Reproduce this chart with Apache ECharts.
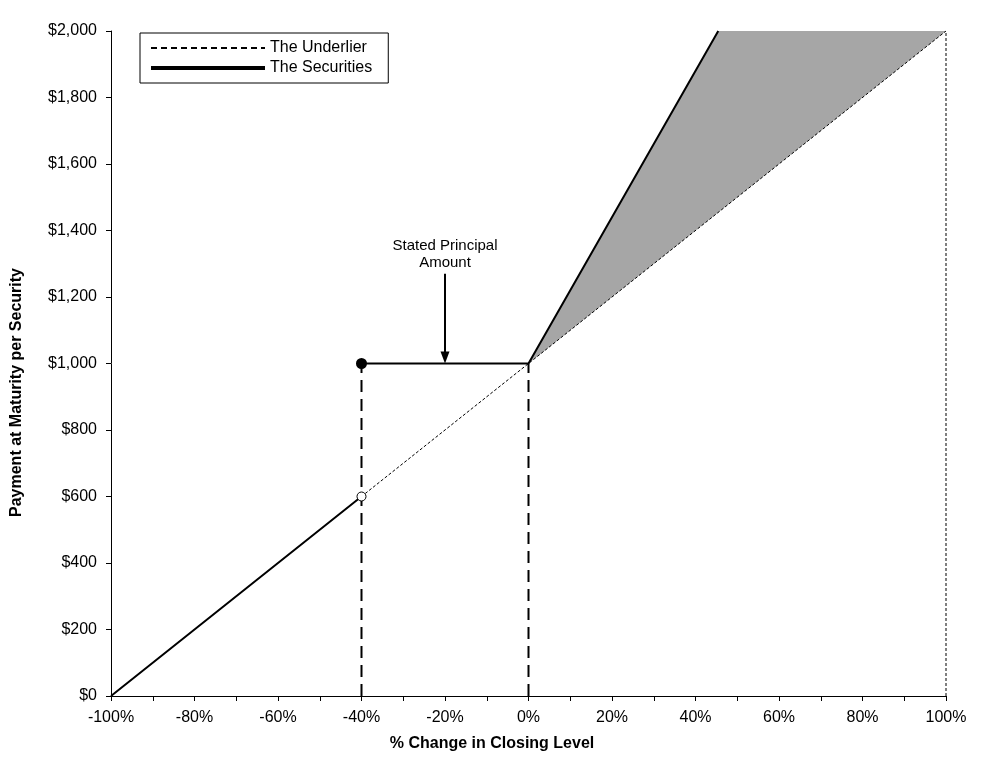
<!DOCTYPE html>
<html>
<head>
<meta charset="utf-8">
<script src="https://cdn.jsdelivr.net/npm/echarts@6/dist/echarts.min.js"></script>
<style>
  html, body { margin: 0; padding: 0; background: #fff; }
  #chart { width: 998px; height: 762px; }
</style>
</head>
<body>
<div id="chart"></div>
<script>
// % change in closing level vs payment per security
const underlierX = [-100, 100];
const underlierY = [0, 2000];

// securities payoff: below -40% tracks underlier, -40%..0% pays principal, above 0% 2.2x upside
const securitiesX = [-100, -40, -40, -40, 0, 45.45];
const securitiesY = [0, 600, '-', 1000, 1000, 2000];

// shaded upside region between securities and underlier
const fillX = [0, 45.45, 100];
const fillY = [1000, 2000, 2000];

// barrier / principal guide lines
const guideX = [-40, 0];
const guideTop = 1000;
const rightEdgeX = 100;
const rightEdgeTop = 2000;

const filledPoint = [-40, 1000];
const openPoint = [-40, 600];

const noteText = 'Stated Principal\nAmount';
const notePos = [-20, 1328];
const arrowFrom = [-20, 1270];
const arrowTo = [-20, 1018];

const font = '"Liberation Sans", Arial, sans-serif';

const pairs = (xs, ys) => xs.map((x, i) => [x, ys[i]]);

const chart = echarts.init(document.getElementById('chart'));

const guideSeries = guideX.map(x => ({
    type: 'line',
    data: [[x, 0], [x, guideTop]],
    symbol: 'none',
    silent: true,
    lineStyle: { color: '#000', width: 2, type: [12, 7] },
    z: 3
}));

const option = {
    animation: false,
    backgroundColor: '#fff',
    textStyle: { fontFamily: font, color: '#000' },
    grid: { left: 111, right: 52, top: 31, bottom: 66 },
    legend: {
        left: 140,
        top: 33,
        orient: 'vertical',
        backgroundColor: '#fff',
        borderColor: '#000',
        borderWidth: 1,
        borderRadius: 0,
        padding: [7, 16, 7, 9],
        itemGap: 4,
        itemWidth: 114,
        itemHeight: 16,
        textStyle: { fontSize: 16, color: '#000', fontFamily: font },
        data: [
            {
                name: 'The Underlier',
                itemStyle: { opacity: 0 },
                lineStyle: { width: 2, type: [6, 4], color: '#000' }
            },
            {
                name: 'The Securities',
                itemStyle: { opacity: 0 },
                lineStyle: { width: 4, color: '#000' }
            }
        ]
    },
    xAxis: {
        type: 'value',
        min: -100,
        max: 100,
        interval: 10,
        name: '% Change in Closing Level',
        nameLocation: 'middle',
        nameGap: 40,
        nameTextStyle: { fontSize: 16, fontWeight: 'bold', color: '#000', padding: [0, 73, 0, 0] },
        axisLine: { onZero: false, lineStyle: { color: '#000', width: 1 } },
        axisTick: { inside: false, length: 5, lineStyle: { color: '#000' } },
        axisLabel: {
            fontSize: 16,
            color: '#000',
            margin: 14,
            formatter: v => (Math.round(v) % 20 === 0 ? v + '%' : '')
        },
        splitLine: { show: false }
    },
    yAxis: {
        type: 'value',
        min: 0,
        max: 2000,
        interval: 200,
        name: 'Payment at Maturity per Security',
        nameLocation: 'middle',
        nameGap: 86,
        nameTextStyle: { fontSize: 16, fontWeight: 'bold', color: '#000', padding: [0, 58, 0, 0] },
        axisLine: { show: true, onZero: false, lineStyle: { color: '#000', width: 1 } },
        axisTick: { show: true, length: 5, lineStyle: { color: '#000' } },
        axisLabel: {
            fontSize: 16,
            color: '#000',
            margin: 14,
            formatter: v => '$' + v.toLocaleString('en-US')
        },
        splitLine: { show: false }
    },
    series: [
        {
            type: 'custom',
            silent: true,
            z: 1,
            data: [[0]],
            renderItem: (params, api) => ({
                type: 'polygon',
                shape: { points: fillX.map((x, i) => api.coord([x, fillY[i]])) },
                style: { fill: '#a6a6a6', stroke: 'none' }
            })
        },
        {
            name: 'The Underlier',
            type: 'line',
            data: pairs(underlierX, underlierY),
            symbol: 'none',
            lineStyle: { color: '#000', width: 1, type: [3, 2] },
            z: 4
        },
        {
            type: 'line',
            data: [[rightEdgeX, 0], [rightEdgeX, rightEdgeTop]],
            symbol: 'none',
            silent: true,
            lineStyle: { color: '#000', width: 1, type: [3, 2] },
            z: 4
        },
        ...guideSeries,
        {
            name: 'The Securities',
            type: 'line',
            data: pairs(securitiesX, securitiesY),
            connectNulls: false,
            symbol: 'none',
            lineStyle: { color: '#000', width: 2 },
            z: 5
        },
        {
            type: 'scatter',
            data: [filledPoint],
            symbol: 'circle',
            symbolSize: 11,
            itemStyle: { color: '#000', opacity: 1 },
            z: 6
        },
        {
            type: 'scatter',
            data: [openPoint],
            symbol: 'circle',
            symbolSize: 9,
            itemStyle: { color: '#fff', borderColor: '#000', borderWidth: 1, opacity: 1 },
            z: 6
        },
        {
            type: 'scatter',
            data: [notePos],
            symbolSize: 0,
            silent: true,
            itemStyle: { opacity: 1 },
            label: {
                show: true,
                position: 'inside',
                formatter: noteText,
                fontSize: 15,
                lineHeight: 17,
                color: '#000',
                fontFamily: font
            },
            markLine: {
                silent: true,
                symbol: ['none', 'triangle'],
                symbolSize: [9, 12],
                label: { show: false },
                lineStyle: { color: '#000', width: 2, type: 'solid', opacity: 1 },
                data: [[{ coord: arrowFrom }, { coord: arrowTo }]]
            },
            z: 6
        }
    ]
};

chart.setOption(option);
</script>
</body>
</html>
